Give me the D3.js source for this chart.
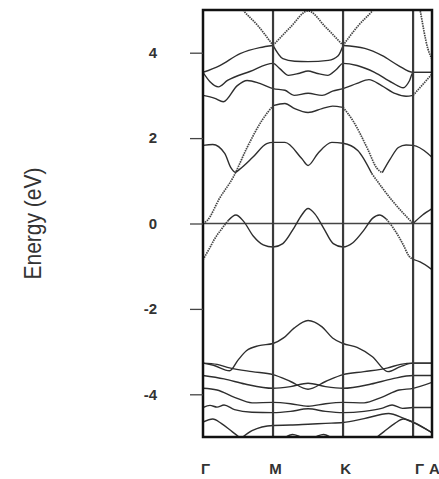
<!DOCTYPE html>
<html>
<head>
<meta charset="utf-8">
<script src="https://cdn.jsdelivr.net/npm/d3@7"></script>
<style>
  body { margin: 0; background: #fff; }
  svg { display: block; }
</style>
</head>
<body>
<div id="chart"></div>
<script>
// k-path positions and labels
var kTicks = [0, 1, 2, 3, 3.27];
var kLabels = ["Γ", "M", "K", "Γ", "A"];
var energyTicks = [-4, -2, 0, 2, 4];

// bands as [k, energy] pairs
var bandUa = [[0,6.2],[0.3,5.6],[0.57,5.0],[0.79,4.62],[1,4.17],[1.14,3.86],[1.31,3.8],[1.5,3.79],[1.79,3.82],[1.93,3.93],[2,4.17],[2.21,4.62],[2.43,5.0],[2.7,5.6],[3,5.9],[3.1,5.0],[3.21,4.1],[3.27,3.85]];
var bandUb = [[0,3.54],[0.24,3.7],[0.53,3.98],[0.81,4.12],[1,4.17],[1.25,4.6],[1.5,4.98],[1.75,4.6],[2,4.17],[2.31,4.1],[2.56,3.93],[2.79,3.7],[3,3.54],[3.27,3.54]];
var bandU2 = [[0,3.54],[0.1,3.32],[0.22,3.2],[0.35,3.35],[0.67,3.56],[1,3.75],[1.1,3.62],[1.22,3.47],[1.38,3.52],[1.5,3.57],[1.62,3.52],[1.78,3.47],[1.9,3.6],[2,3.75],[2.2,3.7],[2.45,3.54],[2.7,3.3],[2.86,3.18],[2.95,3.35],[3,3.54],[3.27,3.54]];
var bandU3 = [[0,3.0],[0.17,2.93],[0.29,2.85],[0.49,3.23],[0.63,3.35],[0.81,3.28],[1,3.16],[1.17,3.12],[1.3,3.0],[1.5,3.05],[1.7,3.0],[1.85,3.1],[2,3.16],[2.2,3.28],[2.37,3.37],[2.55,3.23],[2.75,3.04],[2.9,2.98],[3,3.0],[3.135,3.25],[3.27,3.5]];
var bandQ = [[0,0],[0.06,0.07],[0.24,0.6],[0.43,1.08],[0.63,1.78],[0.84,2.41],[1,2.76],[1.17,2.81],[1.31,2.69],[1.5,2.6],[1.7,2.69],[1.85,2.75],[2,2.72],[2.14,2.41],[2.35,1.75],[2.48,1.3],[2.56,1.19],[2.67,1.5],[2.79,1.78],[2.9,1.84],[3,1.83],[3.21,1.64],[3.27,1.55]];
var bandP = [[0,1.83],[0.14,1.85],[0.31,1.64],[0.4,1.3],[0.46,1.2],[0.53,1.28],[0.71,1.55],[0.91,1.87],[1,1.9],[1.17,1.9],[1.41,1.52],[1.5,1.36],[1.64,1.64],[1.84,1.9],[2,1.88],[2.21,1.71],[2.41,1.17],[2.7,0.54],[3,0],[3.135,0.2],[3.27,0.35]];
var bandZ = [[0,-0.85],[0.1,-0.56],[0.17,-0.35],[0.27,-0.12],[0.36,0.07],[0.47,0.2],[0.58,0.05],[0.72,-0.3],[0.86,-0.5],[1,-0.55],[1.14,-0.47],[1.3,-0.1],[1.41,0.2],[1.5,0.35],[1.6,0.22],[1.72,-0.1],[1.86,-0.47],[2,-0.55],[2.14,-0.45],[2.3,-0.15],[2.42,0.12],[2.52,0.2],[2.62,0.1],[2.74,-0.16],[2.86,-0.5],[2.94,-0.76],[3,-0.84],[3.1,-0.9],[3.27,-1.08]];
var bandL1 = [[0,-3.27],[0.15,-3.32],[0.38,-3.45],[0.5,-3.2],[0.62,-2.98],[0.8,-2.86],[1,-2.81],[1.15,-2.68],[1.3,-2.45],[1.5,-2.27],[1.7,-2.42],[1.85,-2.68],[2,-2.81],[2.2,-2.9],[2.42,-3.12],[2.64,-3.47],[2.82,-3.35],[3,-3.27],[3.27,-3.27]];
var bandL2 = [[0,-3.27],[0.2,-3.3],[0.38,-3.38],[0.7,-3.47],[1,-3.54],[1.25,-3.7],[1.5,-3.88],[1.75,-3.7],[2,-3.54],[2.3,-3.47],[2.64,-3.38],[2.82,-3.3],[3,-3.27],[3.27,-3.27]];
var bandL3 = [[0,-3.56],[0.3,-3.64],[0.6,-3.76],[1,-3.86],[1.25,-3.82],[1.5,-3.74],[1.75,-3.82],[2,-3.86],[2.4,-3.76],[2.7,-3.64],[3,-3.56],[3.27,-3.56]];
var bandL4 = [[0,-3.86],[0.2,-3.9],[0.45,-4.07],[0.7,-4.2],[1,-4.19],[1.25,-4.22],[1.5,-4.28],[1.75,-4.22],[2,-4.19],[2.3,-4.2],[2.55,-4.07],[2.8,-3.9],[3,-3.86],[3.27,-3.72]];
var bandL5 = [[0,-4.31],[0.1,-4.26],[0.2,-4.3],[0.3,-4.25],[0.45,-4.36],[0.7,-4.42],[1,-4.43],[1.25,-4.4],[1.5,-4.34],[1.75,-4.4],[2,-4.43],[2.3,-4.4],[2.55,-4.33],[2.7,-4.25],[2.85,-4.33],[3,-4.31],[3.27,-4.31]];
var bandL6 = [[0,-4.65],[0.14,-4.58],[0.26,-4.68],[0.42,-4.88],[0.6,-5.1],[0.8,-5.25],[1,-5.2],[1.28,-4.94],[1.4,-5.0],[1.5,-5.05],[1.6,-5.0],[1.72,-4.94],[2,-5.2],[2.2,-5.25],[2.4,-5.1],[2.58,-4.88],[2.74,-4.68],[2.86,-4.58],[3,-4.65],[3.27,-4.9]];
var bandL7 = [[0,-5.5],[0.45,-5.15],[0.7,-4.85],[1,-4.73],[1.25,-4.72],[1.5,-4.7],[1.75,-4.68],[2,-4.66],[2.3,-4.57],[2.65,-4.45],[2.85,-4.55],[3,-4.66],[3.27,-4.9]];

var bands = [bandUa, bandUb, bandU2, bandU3, bandQ, bandP, bandZ, bandL1, bandL2, bandL3, bandL4, bandL5, bandL6, bandL7];
// k ranges where each band is drawn as a dotted trace
var dottedRanges = [[[0,1],[2,3.27]], [[1,2]], [], [[3,3.27]], [[0,1],[2,2.56]], [[2.41,3]], [[0,0.4],[2.6,3]], [], [], [], [], [], [], []];

var margin = {top: 10, right: 7, bottom: 42, left: 203};
var width = 439 - margin.left - margin.right;
var height = 479 - margin.top - margin.bottom;

var svg = d3.select("#chart").append("svg")
    .attr("width", 439)
    .attr("height", 479);

var x = d3.scaleLinear()
    .domain([kTicks[0], kTicks[kTicks.length - 1]])
    .range([0, width]);
var y = d3.scaleLinear()
    .domain([-5, 5])
    .range([height, 0]);

var line = d3.line()
    .x(function(d) { return x(d[0]); })
    .y(function(d) { return y(d[1]); })
    .curve(d3.curveMonotoneX);

var g = svg.append("g")
    .attr("transform", "translate(" + margin.left + "," + margin.top + ")");

g.append("clipPath")
    .attr("id", "plotclip")
  .append("rect")
    .attr("width", width)
    .attr("height", height);

// split a band into solid / dotted runs
function runs(pts, ranges) {
  var out = [], cur = null;
  for (var i = 0; i < pts.length - 1; i++) {
    var mid = (pts[i][0] + pts[i + 1][0]) / 2;
    var dot = ranges.some(function(r) { return mid >= r[0] && mid <= r[1]; });
    if (!cur || cur.dot !== dot) {
      cur = {dot: dot, pts: [pts[i]]};
      out.push(cur);
    }
    cur.pts.push(pts[i + 1]);
  }
  return out;
}

var bandLayer = g.append("g").attr("clip-path", "url(#plotclip)");

// Fermi level
bandLayer.append("line")
    .attr("x1", 0).attr("x2", width)
    .attr("y1", y(0)).attr("y2", y(0))
    .attr("stroke", "#444")
    .attr("stroke-width", 1.6);

bands.forEach(function(b, i) {
  runs(b, dottedRanges[i]).forEach(function(r) {
    bandLayer.append("path")
        .attr("d", line(r.pts))
        .attr("fill", "none")
        .attr("stroke", r.dot ? "#444" : "#2e2e2e")
        .attr("stroke-width", r.dot ? 1.7 : 1.4)
        .attr("stroke-dasharray", r.dot ? "1.5,0.9" : null);
  });
});

// high-symmetry verticals
g.selectAll(".kline")
    .data(kTicks.slice(1, 4))
  .enter().append("line")
    .attr("class", "kline")
    .attr("x1", function(d) { return x(d); })
    .attr("x2", function(d) { return x(d); })
    .attr("y1", 0)
    .attr("y2", height)
    .attr("stroke", "#3a3a3a")
    .attr("stroke-width", 2.2);

g.append("rect")
    .attr("width", width)
    .attr("height", height)
    .attr("fill", "none")
    .attr("stroke", "#111")
    .attr("stroke-width", 2.5);

var axisY = g.append("g")
    .call(d3.axisLeft(y)
        .tickValues(energyTicks)
        .tickSize(13)
        .tickPadding(33)
        .tickFormat(function(d) { return String(d); }));
axisY.select(".domain").remove();
axisY.selectAll(".tick line").attr("stroke", "#444").attr("stroke-width", 1.3);
axisY.selectAll(".tick text")
    .style("font-family", "Liberation Sans, Arial, sans-serif")
    .style("font-size", "15px")
    .style("font-weight", "bold")
    .attr("fill", "#333");

var axisX = g.append("g")
    .attr("transform", "translate(0," + height + ")")
    .call(d3.axisBottom(x)
        .tickValues(kTicks)
        .tickSize(0)
        .tickPadding(26)
        .tickFormat(function(d, i) { return kLabels[i]; }));
axisX.select(".domain").remove();
axisX.selectAll(".tick text")
    .attr("dx", function(d, i) { return i === 3 ? 6 : 2; })
    .style("font-family", "Liberation Sans, Arial, sans-serif")
    .style("font-size", "15px")
    .style("font-weight", "bold")
    .attr("fill", "#333");

svg.append("text")
    .attr("transform", "translate(41," + (margin.top + y(0)) + ") rotate(-90)")
    .attr("text-anchor", "middle")
    .attr("textLength", 112)
    .attr("lengthAdjust", "spacingAndGlyphs")
    .style("font-family", "Liberation Sans, Arial, sans-serif")
    .style("font-size", "24px")
    .attr("fill", "#333")
    .text("Energy (eV)");
</script>
</body>
</html>
